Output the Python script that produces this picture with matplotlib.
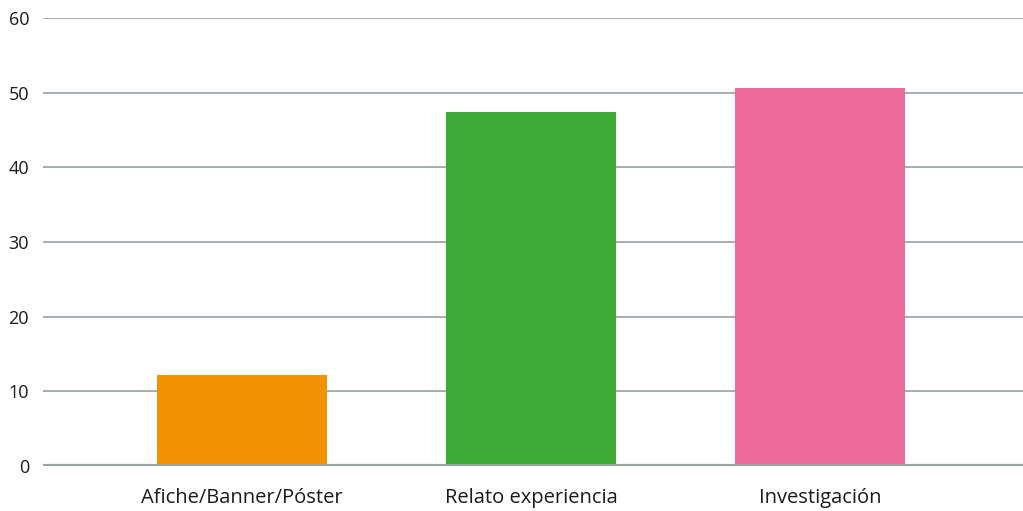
import matplotlib

matplotlib.use("Agg")
import matplotlib.pyplot as plt

categories = ["Afiche/Banner/Póster", "Relato experiencia", "Investigación"]
values = [12.2, 47.4, 50.6]
colors = ["#F39200", "#3DAA35", "#ED6B9B"]
yticks = [0, 10, 20, 30, 40, 50, 60]

plt.rcParams["font.family"] = ["Open Sans", "DejaVu Sans"]

fig = plt.figure(figsize=(10.23, 5.11), dpi=100)
ax = fig.add_axes([43 / 1023, 45 / 511, 980 / 1023, 448 / 511])

x = list(range(len(categories)))
ax.bar(x, values, width=0.59, color=colors, zorder=3)

ax.set_xlim(-0.689, 2.702)
ax.set_ylim(0, 60)
ax.set_yticks(yticks)
ax.set_xticks(x)
ax.set_xticklabels(categories, fontsize=14.5, color="#1a1a1a")
ax.tick_params(axis="y", length=0, pad=10, labelsize=13, labelcolor="#1a1a1a")
ax.tick_params(axis="x", length=0, pad=16)

ax.grid(axis="y", color="#9EA8A3", linewidth=1.3, zorder=0)
ax.axhline(0, color="#98A29E", linewidth=3, zorder=4)
for s in ax.spines.values():
    s.set_visible(False)

fig.savefig("out.png", dpi=100)
